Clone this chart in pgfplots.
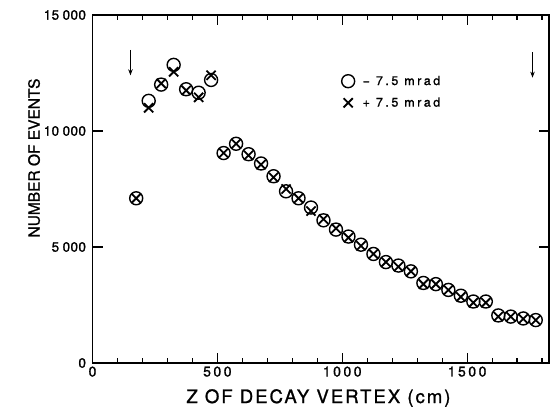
\documentclass[border=0pt]{standalone}
\usepackage{pgfplots}
\pgfplotsset{compat=1.18}
\usepackage{fontspec}
\setmainfont{TeX Gyre Heros}
\newfontfamily\tickfont[LetterSpace=18,FakeBold=1.2]{TeX Gyre Heros}
\newfontfamily\ytickfont[LetterSpace=3,FakeBold=1.2]{TeX Gyre Heros}
\newfontfamily\labfont[LetterSpace=11,FakeBold=1.2]{TeX Gyre Heros}
\newfontfamily\ylabfont[FakeBold=1.2]{TeX Gyre Heros}
\newfontfamily\legfont[LetterSpace=20,FakeBold=1.2]{TeX Gyre Heros}
\usetikzlibrary{arrows.meta}

\begin{document}
\begin{tikzpicture}
\useasboundingbox (-92.5pt,-44pt) rectangle (459.5pt,363pt);
\begin{axis}[
  at={(0pt,0pt)}, anchor=south west,
  scale only axis, width=456.5pt, height=348pt,
  xmin=0, xmax=1828, ymin=0, ymax=15000,
  xtick={0,500,1000,1500}, xticklabels={0,500,1000,1500},
  minor xtick={100,200,...,1800},
  ytick={0,5000,10000,15000}, yticklabels={{0},{5\hspace{3.5pt}000},{10\hspace{3.5pt}000},{15\hspace{3.5pt}000}},
  scaled ticks=false,
  tick align=inside,
  major tick length=10pt, minor tick length=5pt,
  every tick/.style={black, line width=1.1pt},
  axis line style={line width=1.2pt},
  xticklabel style={font=\tickfont\fontsize{14}{15}\selectfont},
  yticklabel style={font=\ytickfont\fontsize{13.5}{15}\selectfont, xshift=-3pt},
  xlabel={Z OF DECAY VERTEX (cm)},
  ylabel={NUMBER OF EVENTS},
  xlabel style={at={(axis description cs:0.495,-0.115)}, anchor=base, font=\labfont\fontsize{18.5}{20}\selectfont},
  ylabel style={at={(axis description cs:-0.128,0.589)}, anchor=center, font=\ylabfont\fontsize{15.5}{18}\selectfont},
  legend style={draw=none, fill=none, at={(axis cs:997,12470)}, anchor=north west,
    font=\legfont\fontsize{12.5}{13}\selectfont, row sep=7pt, inner sep=0pt},
  legend cell align=left,
]
\addplot[only marks, mark=o, mark size=6.5pt, line width=1.4pt, black] coordinates {
(175,7100) (225,11300) (275,12000) (325,12850) (375,11800) (425,11650) (475,12200)
(525,9050) (575,9450) (625,9000) (675,8600) (725,8050) (775,7400) (825,7100)
(875,6700) (925,6150) (975,5750) (1025,5450) (1075,5100) (1125,4700) (1175,4350)
(1225,4200) (1275,3950) (1325,3450) (1375,3400) (1425,3150) (1475,2900) (1525,2650)
(1575,2650) (1625,2050) (1675,2000) (1725,1920) (1775,1850)
};
\addlegendentry{\hspace{6pt}− 7.5 mrad}
\addplot[only marks, mark=x, mark size=6.5pt, line width=1.8pt, black] coordinates {
(175,7100) (225,11000) (275,12050) (325,12550) (375,11750) (425,11450) (475,12400)
(525,9050) (575,9450) (625,8950) (675,8550) (725,8000) (775,7500) (825,7100)
(875,6550) (925,6200) (975,5800) (1025,5400) (1075,5050) (1125,4700) (1175,4350)
(1225,4150) (1275,3950) (1325,3400) (1375,3400) (1425,3150) (1475,2850) (1525,2600)
(1575,2600) (1625,2000) (1675,2000) (1725,1900) (1775,1850)
};
\addlegendentry{\hspace{6pt}+ 7.5 mrad}
\draw[line width=1.1pt, -{Stealth[length=6pt,width=4.5pt]}] (axis cs:152,13500) -- (axis cs:152,12400);
\draw[line width=1.1pt, -{Stealth[length=6pt,width=4.5pt]}] (axis cs:1762,13400) -- (axis cs:1762,12300);
\end{axis}
\end{tikzpicture}
\end{document}
